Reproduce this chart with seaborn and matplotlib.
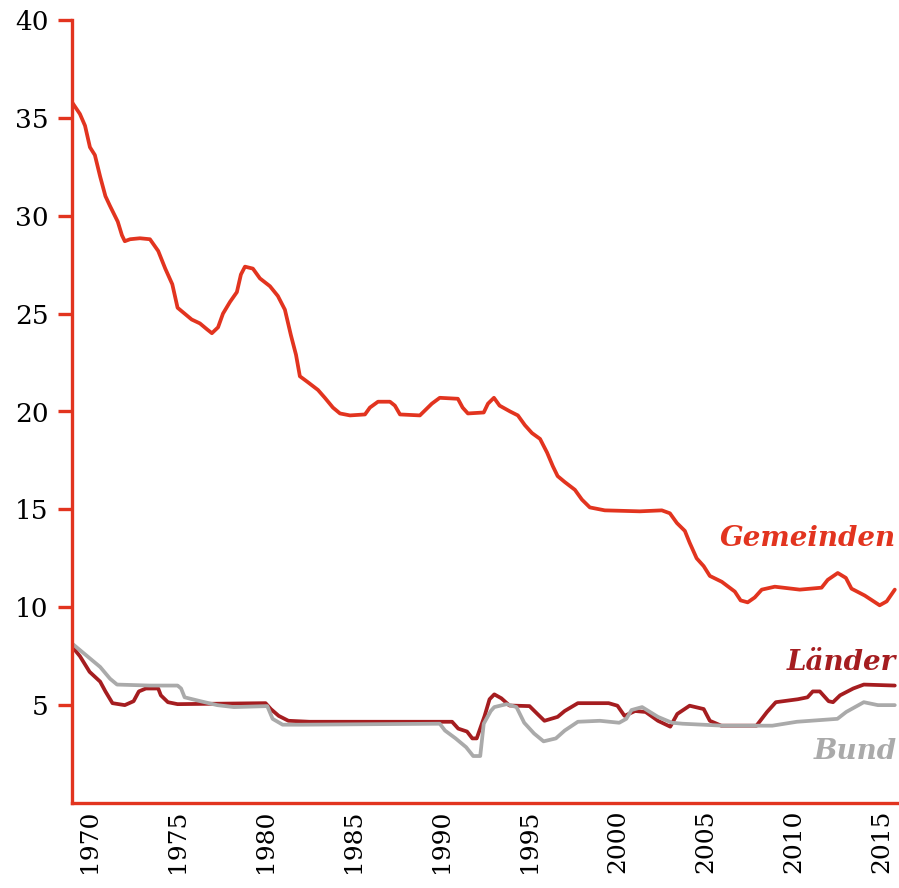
import matplotlib
matplotlib.use("Agg")
import matplotlib.pyplot as plt
import seaborn as sns

# --- data ---
gem_years = [1969.0, 1969.45, 1969.74, 1970.02, 1970.3, 1970.6, 1970.9, 1971.16, 1971.6, 1971.84,
             1972.0, 1972.3, 1972.86, 1973.43, 1973.9, 1974.3, 1974.7, 1975.0, 1975.4, 1975.8,
             1976.27, 1976.67, 1976.95, 1977.3, 1977.58, 1977.98, 1978.37, 1978.6, 1978.83, 1979.28,
             1979.68, 1980.25, 1980.7, 1981.1, 1981.44, 1981.73, 1981.95, 1982.4, 1982.98, 1983.37,
             1983.83, 1984.23, 1984.8, 1985.65, 1985.93, 1986.39, 1987.07, 1987.35, 1987.64, 1988.77,
             1989.11, 1989.45, 1989.9, 1990.93, 1991.2, 1991.5, 1992.4, 1992.64, 1992.98, 1993.3,
             1993.9, 1994.34, 1994.74, 1995.14, 1995.6, 1996.0, 1996.33, 1996.6, 1997.0, 1997.58,
             1997.98, 1998.43, 1999.28, 2001.27, 2002.52, 2002.98, 2003.38, 2003.83, 2004.1, 2004.5,
             2004.9, 2005.25, 2005.93, 2006.67, 2007.0, 2007.4, 2007.8, 2008.2, 2008.94, 2010.36,
             2011.6, 2011.95, 2012.52, 2012.98, 2013.3, 2014.05, 2014.9, 2015.3, 2015.76]
gemeinden = [35.8, 35.2, 34.6, 33.5, 33.1, 32.0, 31.0, 30.5, 29.7, 29.0,
             28.7, 28.8, 28.85, 28.8, 28.2, 27.3, 26.5, 25.3, 25.0, 24.7,
             24.5, 24.2, 24.0, 24.3, 25.0, 25.6, 26.1, 27.0, 27.4, 27.3,
             26.8, 26.4, 25.9, 25.2, 23.9, 22.9, 21.8, 21.5, 21.1, 20.7,
             20.2, 19.9, 19.8, 19.85, 20.2, 20.5, 20.5, 20.3, 19.85, 19.8,
             20.1, 20.4, 20.7, 20.65, 20.2, 19.9, 19.95, 20.4, 20.7, 20.3,
             20.0, 19.8, 19.3, 18.9, 18.6, 17.9, 17.2, 16.7, 16.4, 16.0,
             15.5, 15.1, 14.95, 14.9, 14.95, 14.8, 14.3, 13.9, 13.3, 12.5,
             12.1, 11.6, 11.3, 10.8, 10.35, 10.25, 10.5, 10.9, 11.05, 10.9,
             11.0, 11.4, 11.75, 11.5, 10.95, 10.6, 10.1, 10.3, 10.9]

laender_years = [1969.0, 1969.45, 1970.0, 1970.6, 1970.9, 1971.3, 1972.0, 1972.5, 1972.8, 1973.2,
                 1973.9, 1974.05, 1974.45, 1975.0, 1977.0, 1980.0, 1980.3, 1980.75, 1981.3, 1982.5,
                 1990.6, 1990.95, 1991.45, 1991.75, 1992.0, 1992.45, 1992.73, 1993.0, 1993.4, 1993.86,
                 1995.0, 1995.45, 1995.85, 1996.6, 1997.0, 1997.75, 1999.5, 2000.0, 2000.4, 2001.0,
                 2001.6, 2002.3, 2003.0, 2003.4, 2004.1, 2004.9, 2005.25, 2005.9, 2007.9, 2008.5,
                 2009.0, 2010.25, 2010.8, 2011.1, 2011.5, 2012.0, 2012.25, 2012.65, 2013.4, 2014.0,
                 2015.76]
laender = [8.0, 7.5, 6.7, 6.2, 5.7, 5.1, 5.0, 5.2, 5.7, 5.85,
           5.85, 5.5, 5.15, 5.05, 5.07, 5.1, 4.8, 4.45, 4.2, 4.15,
           4.15, 3.8, 3.65, 3.3, 3.3, 4.45, 5.3, 5.55, 5.35, 4.98,
           4.95, 4.55, 4.2, 4.4, 4.7, 5.1, 5.1, 4.97, 4.45, 4.7,
           4.65, 4.2, 3.9, 4.55, 4.97, 4.8, 4.2, 3.95, 3.95, 4.65,
           5.15, 5.3, 5.4, 5.7, 5.7, 5.2, 5.15, 5.5, 5.85, 6.05,
           6.0]

bund_years = [1969.0, 1970.0, 1970.6, 1971.16, 1971.56, 1973.4, 1975.0, 1975.2, 1975.4, 1976.3,
              1977.25, 1978.2, 1980.1, 1980.4, 1980.97, 1982.0, 1989.9, 1990.2, 1990.8, 1991.4,
              1991.8, 1992.2, 1992.4, 1992.8, 1993.0, 1993.7, 1994.26, 1994.7, 1995.26, 1995.8,
              1996.5, 1997.0, 1997.75, 1999.0, 2000.1, 2000.5, 2000.8, 2001.4, 2002.3, 2003.1,
              2003.7, 2006.0, 2008.8, 2010.2, 2012.5, 2013.0, 2013.3, 2014.0, 2014.8, 2015.76]
bund = [8.15, 7.4, 6.95, 6.35, 6.05, 6.0, 6.0, 5.85, 5.4, 5.2,
        5.0, 4.9, 4.95, 4.3, 4.0, 4.0, 4.05, 3.7, 3.3, 2.85,
        2.4, 2.4, 4.05, 4.7, 4.9, 5.05, 4.9, 4.1, 3.55, 3.15,
        3.3, 3.7, 4.15, 4.2, 4.1, 4.3, 4.75, 4.9, 4.4, 4.1,
        4.05, 3.95, 3.95, 4.15, 4.3, 4.65, 4.8, 5.15, 5.0, 5.0]

year_ticks = [1970, 1975, 1980, 1985, 1990, 1995, 2000, 2005, 2010, 2015]
value_ticks = [5, 10, 15, 20, 25, 30, 35, 40]

RED = "#e2341f"
DARK_RED = "#a51d20"
GREY = "#aaaaaa"

# --- plot ---
sns.set_theme(style="white")
plt.rcParams["font.family"] = ["DejaVu Serif"]

fig = plt.figure(figsize=(8.99, 8.88), dpi=100)
ax = fig.add_axes([72 / 899, 85 / 888, 1 - 72 / 899, (803 - 20) / 888])

lw = 2.7
sns.lineplot(x=gem_years, y=gemeinden, ax=ax, color=RED, linewidth=lw)
sns.lineplot(x=laender_years, y=laender, ax=ax, color=DARK_RED, linewidth=lw)
sns.lineplot(x=bund_years, y=bund, ax=ax, color=GREY, linewidth=lw)

ax.set_xlim(1969, 2016)
ax.set_ylim(0, 40)
ax.set_xticks(year_ticks)
ax.set_xticklabels([str(y) for y in year_ticks], rotation=90, fontsize=18, color="black")
ax.set_yticks(value_ticks)
ax.set_yticklabels([str(v) for v in value_ticks], fontsize=19, color="black")

for side in ["top", "right"]:
    ax.spines[side].set_visible(False)
for side in ["left", "bottom"]:
    ax.spines[side].set_color(RED)
    ax.spines[side].set_linewidth(2.4)

ax.tick_params(axis="y", length=10, width=2.4, color=RED, pad=7, left=True)
ax.tick_params(axis="x", length=0, pad=5)
ax.grid(False)

label_style = dict(ha="right", va="center", fontsize=20, fontweight="bold", fontstyle="italic")
ax.text(2015.85, 13.5, "Gemeinden", color=RED, **label_style)
ax.text(2015.85, 7.2, "Länder", color=DARK_RED, **label_style)
ax.text(2015.85, 2.65, "Bund", color=GREY, **label_style)

fig.savefig("out.png", dpi=100, facecolor="white")
